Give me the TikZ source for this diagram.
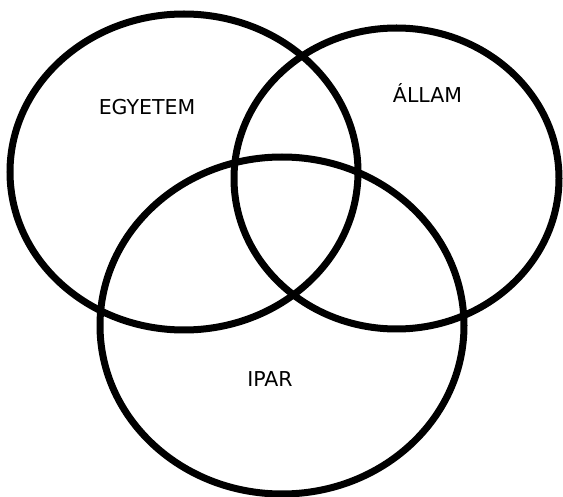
\documentclass[tikz,border=0pt]{standalone}
\usepackage{fontspec}
\setmainfont{DejaVu Sans}
\begin{document}
\begin{tikzpicture}[x=1pt,y=-1pt,
  ring/.style={draw=black,line width=7pt},
  lbl/.style={anchor=base,inner sep=0pt,font=\fontsize{20.5}{24}\selectfont}]
\useasboundingbox[fill=white] (0,0) rectangle (563,497);
\draw[ring] (184,172) ellipse [x radius=174pt, y radius=158pt];
\draw[ring] (396.5,178.5) ellipse [x radius=162.5pt, y radius=150.5pt];
\draw[ring] (282,325.5) ellipse [x radius=182pt, y radius=168.5pt];
\node[lbl] (egy) at (147,115) {EGYETEM};
\node[lbl] (all) at (427.5,103) {ÁLLAM};
\node[lbl] (ipar) at (270,387) {IPAR};
\end{tikzpicture}
\end{document}
